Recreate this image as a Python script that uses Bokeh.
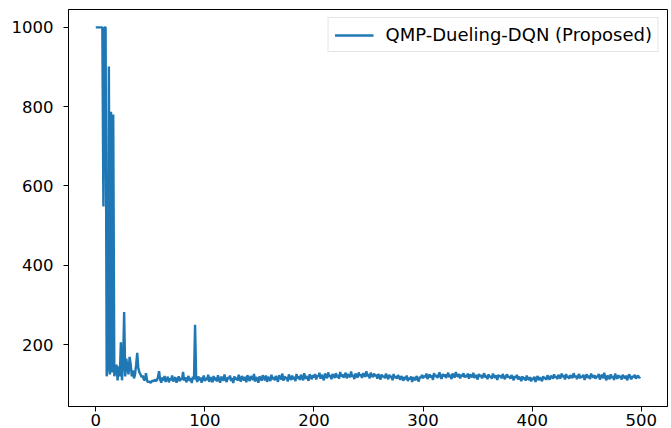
from bokeh.plotting import figure
from bokeh.models import Range1d, FixedTicker, Legend, LegendItem
from bokeh.embed import file_html
from bokeh.resources import INLINE

series_name = "QMP-Dueling-DQN (Proposed)"
x_ticks = [0, 100, 200, 300, 400, 500]
y_ticks = [200, 400, 600, 800, 1000]

steps_early = [
    1000, 1000, 1000, 1000, 1000, 1000, 1000, 548, 1000, 1000,
    120, 140, 901, 125, 787, 130, 780, 120, 135, 150,
    110, 145, 120, 206, 110, 150, 282, 120, 165, 140,
    125, 169, 150, 120, 135, 115, 125, 150, 179, 140,
    130, 125, 118, 122, 112, 110, 128, 110, 105, 108,
    104, 106, 110, 107, 112, 108, 110, 118, 133, 112,
]
steps_mid = [
    104, 117, 109, 121, 106, 113, 119, 105, 115, 110, 122, 107, 114, 118, 104, 112, 120, 108, 116, 111,
    131, 109, 118, 105, 114, 121, 108, 116, 103, 119, 112, 250, 115, 106, 120, 110, 117, 104, 113, 122,
    108, 116, 111, 124, 106, 118, 113, 105, 121, 110, 117, 107, 123, 112, 104, 119, 115, 109, 125, 111,
    106, 118, 114, 122, 108, 116, 103, 120, 112, 117, 109, 124, 113, 107, 121, 115, 110, 119, 105, 123,
    114, 108, 121, 116, 111, 126, 107, 118, 113, 104, 120, 115, 109, 123, 117, 110, 122, 106, 119, 114,
    108, 124, 113, 118, 110, 121, 115, 106, 123, 117, 112, 127, 109, 120, 114, 118, 107, 125, 116, 111,
    122, 113, 119, 108, 126, 115, 120, 111, 124, 117, 110, 128, 114, 121, 116, 109, 125, 119, 113, 123,
    117, 126, 112, 122, 119, 129, 114, 124, 118, 110, 127, 121, 115, 130, 119, 123, 113, 126, 120, 116,
    128, 118, 124, 114, 131, 120, 125, 117, 122, 129, 115, 126, 121, 118, 132, 119, 124, 113, 127, 122,
    117, 130, 121, 125, 116, 128, 123, 119, 133, 120, 126, 115, 129, 122, 118, 127, 121, 124, 114, 126,
    120, 112, 125, 118, 122, 115, 127, 119, 113, 124, 117, 121, 110, 126, 116, 120, 114, 123, 118, 111,
]
steps_late = [
    121, 115, 109, 119, 113, 122, 108, 117, 112, 120, 106, 118, 114, 110, 121, 113, 107, 119, 116, 124,
    115, 122, 118, 127, 113, 120, 125, 117, 123, 111, 128, 119, 124, 116, 121, 130, 118, 114, 126, 120,
    125, 116, 122, 129, 118, 124, 113, 127, 121, 117, 131, 122, 119, 126, 115, 124, 120, 128, 117, 123,
    119, 127, 114, 125, 121, 118, 129, 116, 123, 120, 112, 126, 119, 124, 115, 121, 128, 117, 122, 113,
    125, 118, 121, 114, 127, 120, 116, 123, 111, 124, 119, 122, 115, 126, 118, 113, 121, 125, 117, 120,
    114, 123, 118, 110, 121, 116, 124, 112, 119, 115, 108, 120, 113, 117, 109, 122, 114, 111, 118, 107,
    116, 112, 119, 106, 115, 121, 110, 117, 113, 108, 120, 114, 118, 111, 123, 116, 112, 121, 119, 114,
    125, 117, 120, 113, 124, 118, 115, 127, 119, 122, 112, 126, 117, 121, 114, 123, 119, 116, 128, 118,
    122, 113, 120, 126, 115, 121, 118, 124, 111, 119, 125, 116, 122, 113, 127, 120, 117, 123, 114, 121,
    118, 126, 112, 120, 124, 115, 129, 117, 110, 122, 119, 113, 125, 116, 121, 111, 127, 118, 114, 123,
    117, 121, 112, 124, 119, 115, 122, 110, 120, 125, 116, 113, 121, 118, 124, 114, 119, 122, 116, 119,
]

values = steps_early + steps_mid + steps_late
episodes = list(range(len(values)))

FONT = "DejaVu Sans"

p = figure(width=671, height=428, output_backend="svg", toolbar_location=None,
           x_range=Range1d(-25, 524), y_range=Range1d(44, 1045),
           min_border_left=68, min_border_right=4, min_border_top=9, min_border_bottom=22)
p.background_fill_color = "white"
p.border_fill_color = "white"
p.outline_line_color = "black"
p.outline_line_width = 1
p.grid.visible = False

r = p.line(episodes, values, line_color="#1f77b4", line_width=2.4)

for ax in (p.xaxis[0], p.yaxis[0]):
    ax.axis_line_color = "black"
    ax.major_tick_line_color = "black"
    ax.major_tick_in = 0
    ax.major_tick_out = 5
    ax.minor_tick_line_color = None
    ax.major_label_text_font = FONT
    ax.major_label_text_font_size = "16.5px"
    ax.major_label_text_color = "black"

p.xaxis[0].ticker = FixedTicker(ticks=x_ticks)
p.yaxis[0].ticker = FixedTicker(ticks=y_ticks)
p.xaxis[0].major_label_standoff = 2
p.yaxis[0].major_label_standoff = 10

legend = Legend(items=[LegendItem(label=series_name, renderers=[r])],
                location="top_right", margin=8)
legend.label_text_font = FONT
legend.label_text_font_size = "18px"
legend.label_text_color = "black"
legend.border_line_color = "#cccccc"
legend.border_line_width = 1
legend.background_fill_alpha = 0.8
legend.glyph_width = 39
legend.label_standoff = 12
legend.padding = 6
legend.spacing = 0
p.add_layout(legend)

open("out.html", "w").write(file_html(p, INLINE))
